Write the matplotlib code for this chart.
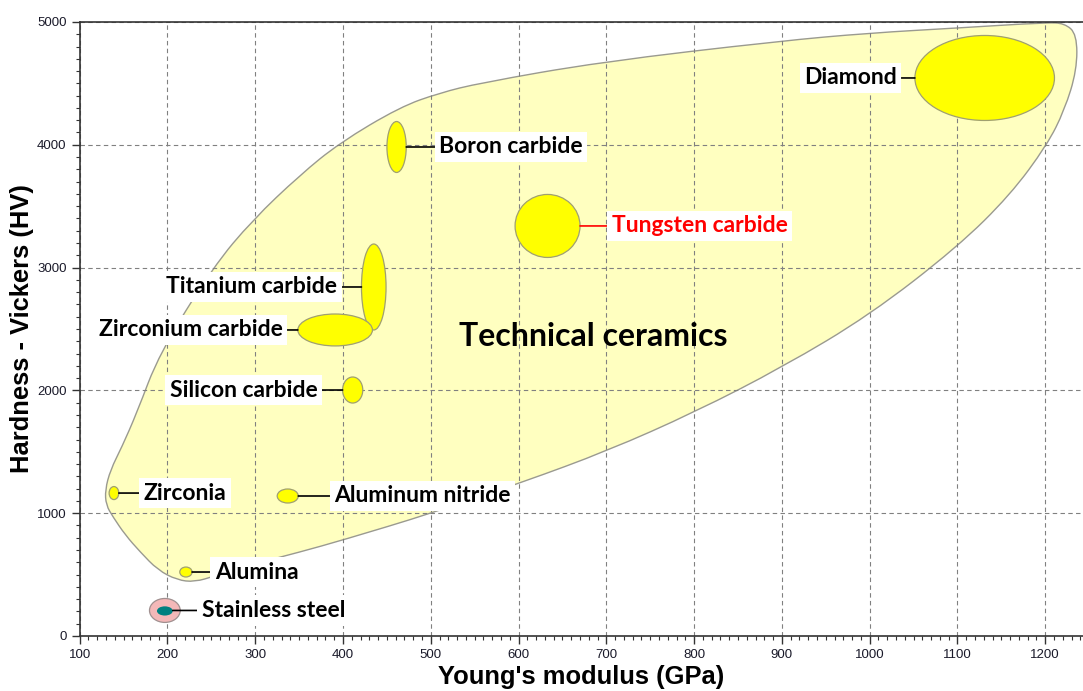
import matplotlib
matplotlib.use("Agg")
import matplotlib.pyplot as plt
from matplotlib.patches import Ellipse, PathPatch
from matplotlib.path import Path
from matplotlib.ticker import MultipleLocator

# materials: centre (GPa, HV) and ellipse size (GPa, HV)
materials = ["Diamond", "Boron carbide", "Tungsten carbide", "Titanium carbide",
             "Zirconium carbide", "Silicon carbide", "Zirconia",
             "Aluminum nitride", "Alumina"]
modulus = [1131, 461, 633, 435, 391, 411, 139, 337, 221]
hardness = [4544, 3982, 3339, 2842, 2492, 2003, 1164, 1140, 521]
modulus_span = [159, 22, 74, 28, 85, 23, 11, 24, 14]
hardness_span = [692, 415, 513, 700, 260, 212, 106, 114, 81]

steel_modulus, steel_hardness = 197, 208
steel_outer_span = (35, 195)
steel_inner_span = (18, 75)

# outline of the technical ceramics family (GPa, HV), used as bezier controls
envelope_modulus = [135, 129, 130, 138, 152, 169, 189, 211, 231, 254, 294,
                    351, 400, 502, 605, 701, 801, 901, 1000, 1100, 1160, 1202,
                    1222, 1236, 1236, 1222, 1200, 1100, 1000, 898, 693, 556,
                    510, 465, 396, 351, 297, 252, 191, 165, 148]
envelope_hardness = [1352, 1189, 1067, 969, 822, 684, 537, 456, 440, 489,
                     578, 684, 782, 1002, 1254, 1507, 1824, 2191, 2614, 3168,
                     3591, 3998, 4283, 4609, 4900, 4990, 4995, 4951, 4910, 4845,
                     4674, 4503, 4422, 4308, 4015, 3754, 3388, 3005, 2305, 1816,
                     1539]

# label side (+1 right, -1 left) and gap in pixels between ellipse and text
label_side = [-1, 1, 1, -1, -1, -1, 1, 1, 1]
label_gap = [18, 33, 32, 24, 15, 25, 25, 36, 23]

LABEL_FONT = "Lato"
AXIS_FONT = "Liberation Sans"


def smooth_outline(xs, ys):
    """Closed quadratic bezier path through the midpoints of the controls"""
    pts = list(zip(xs, ys))
    n = len(pts)
    mids = [((pts[i][0] + pts[(i + 1) % n][0]) / 2,
             (pts[i][1] + pts[(i + 1) % n][1]) / 2) for i in range(n)]
    verts = [mids[-1]]
    codes = [Path.MOVETO]
    for i in range(n):
        verts += [pts[i], mids[i]]
        codes += [Path.CURVE3, Path.CURVE3]
    verts.append(mids[-1])
    codes.append(Path.CLOSEPOLY)
    return Path(verts, codes)


fig = plt.figure(figsize=(10.83, 6.91), dpi=100)
ax = fig.add_axes([0.0736, 0.0796, 0.9264, 0.8886])

ax.add_patch(PathPatch(smooth_outline(envelope_modulus, envelope_hardness),
                       facecolor="#ffffc0", edgecolor="#9a9a90", lw=1.0, zorder=0.3))

box = dict(boxstyle="square,pad=0.2", fc="white", ec="none")
for i, name in enumerate(materials):
    ax.add_patch(Ellipse((modulus[i], hardness[i]), modulus_span[i], hardness_span[i],
                         facecolor="#ffff00", edgecolor="#a0a070", lw=0.9, zorder=2))
    side = label_side[i]
    colour = "#ff0000" if name == "Tungsten carbide" else "black"
    ax.annotate(name, xy=(modulus[i] + side * modulus_span[i] / 2, hardness[i]),
                xytext=(side * label_gap[i], 0), textcoords="offset pixels",
                ha="left" if side > 0 else "right", va="center",
                fontsize=16.5, fontweight="bold", family=LABEL_FONT, color=colour,
                bbox=box, zorder=3,
                arrowprops=dict(arrowstyle="-", color=colour, lw=1.2,
                                shrinkA=0, shrinkB=0))

ax.add_patch(Ellipse((steel_modulus, steel_hardness), *steel_outer_span,
                     facecolor="#f4b8b8", edgecolor="#a09090", lw=0.9, zorder=2))
ax.add_patch(Ellipse((steel_modulus, steel_hardness - 4), *steel_inner_span,
                     facecolor="#008080", edgecolor="none", zorder=2.1))
ax.annotate("Stainless steel", xy=(steel_modulus + steel_inner_span[0] / 2, steel_hardness),
            xytext=(29, 0), textcoords="offset pixels", ha="left", va="center",
            fontsize=16.5, fontweight="bold", family=LABEL_FONT, color="black",
            bbox=box, zorder=3,
            arrowprops=dict(arrowstyle="-", color="black", lw=1.2, shrinkA=0, shrinkB=0))

ax.text(685, 2435, "Technical ceramics", ha="center", va="center", fontsize=23,
        fontweight="bold", family=LABEL_FONT, zorder=3)

ax.set_xlim(100, 1243)
ax.set_ylim(0, 5000)
ax.xaxis.set_major_locator(MultipleLocator(100))
ax.xaxis.set_minor_locator(MultipleLocator(10))
ax.yaxis.set_major_locator(MultipleLocator(1000))
ax.yaxis.set_minor_locator(MultipleLocator(100))
ax.set_axisbelow(True)
ax.grid(True, which="major", color="#808080", ls=(0, (4, 3)), lw=0.8)
ax.spines["right"].set_visible(False)
for s in ("left", "bottom", "top"):
    ax.spines[s].set_color("#333333")
    ax.spines[s].set_linewidth(1.2)
ax.tick_params(which="major", direction="out", length=6, width=1, color="#333333",
               labelsize=9.5, labelcolor="#1a1a2a")
ax.tick_params(which="minor", direction="out", length=3, width=0.8, color="#333333")
for lab in ax.get_xticklabels() + ax.get_yticklabels():
    lab.set_family(AXIS_FONT)

ax.set_xlabel("Young's modulus (GPa)", fontsize=18.4, fontweight="bold",
              family=AXIS_FONT, labelpad=3)
ax.set_ylabel("Hardness - Vickers (HV)", fontsize=18.4, fontweight="bold",
              family=AXIS_FONT, labelpad=2)

fig.savefig("out.png", dpi=100)
